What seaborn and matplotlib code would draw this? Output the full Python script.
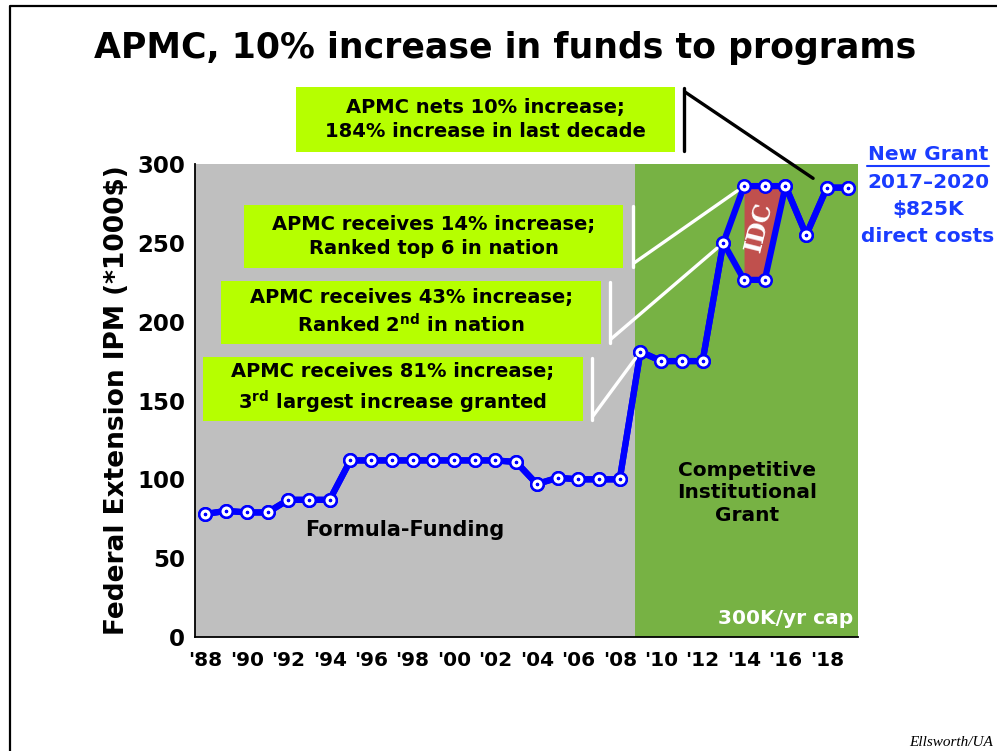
import numpy as np
import pandas as pd
import matplotlib
matplotlib.use("Agg")
import matplotlib.pyplot as plt
from matplotlib.lines import Line2D
from matplotlib.patches import Rectangle
import seaborn as sns

# funding per year (*1000$)
years = list(range(1988, 2020))
direct = [78, 80, 79, 79, 87, 87, 87, 112, 112, 112, 112, 112, 112, 112, 112, 111,
          97, 101, 100, 100, 100, 181, 175, 175, 175, 250, 226.5, 226.5, 286, 255, 285, 285]
# direct + indirect costs (only differs in '14 and '15)
total = [78, 80, 79, 79, 87, 87, 87, 112, 112, 112, 112, 112, 112, 112, 112, 111,
         97, 101, 100, 100, 100, 181, 175, 175, 175, 250, 286, 286, 286, 255, 285, 285]
idc_years = [2014, 2015, 2016]
split_year = 2008.75

tick_years = list(range(1988, 2020, 2))
tick_labels = ["'%02d" % (y % 100) for y in tick_years]

notes = [
    ("APMC nets 10% increase;\n184% increase in last decade", 2018, 285),
    ("APMC receives 14% increase;\nRanked top 6 in nation", 2014, 286),
    ("APMC receives 43% increase;\nRanked 2$^{\\mathbf{nd}}$ in nation", 2013, 250),
    ("APMC receives 81% increase;\n3$^{\\mathbf{rd}}$ largest increase granted", 2009, 181),
]

sns.set_style("white")
plt.rcParams['font.family'] = ['DejaVu Sans']
plt.rcParams['font.weight'] = 'bold'
plt.rcParams['mathtext.fontset'] = 'dejavusans'
for k in ['text.color', 'axes.labelcolor', 'xtick.color', 'ytick.color']:
    plt.rcParams[k] = 'black'

W, H = 997, 751
fig = plt.figure(figsize=(W / 100, H / 100), dpi=100)


def fx(x):
    return x / W


def fy(y):
    return 1 - y / H


ax = fig.add_axes([fx(195), fy(637), (858 - 195) / W, (637 - 164) / H])
ax.set_facecolor('none')

df = pd.DataFrame({'year': years, 'direct': direct, 'total': total})

ax.axvspan(1987.5, split_year, color='#bfbfbf', zorder=0, lw=0)
ax.axvspan(split_year, 2019.5, color='#77b244', zorder=0, lw=0)

sel = df[df['year'].isin(idc_years)]
ax.fill_between(sel['year'], sel['direct'], sel['total'], color='#c0504d', lw=0, zorder=1)
ax.text(2014.72, 260, 'IDC', color='white', fontsize=17, rotation=76,
        ha='center', va='center', family='DejaVu Serif', fontweight='bold', zorder=2)

for col in ['total', 'direct']:
    sns.lineplot(data=df, x='year', y=col, ax=ax, color='#0000ff', lw=4.5,
                 marker='o', markersize=9, markerfacecolor='white',
                 markeredgecolor='#0000ff', markeredgewidth=1.8, zorder=3)
    sns.scatterplot(data=df, x='year', y=col, ax=ax, color='#0000ff', s=6,
                    linewidth=0, zorder=4)

ax.set_xlim(1987.5, 2019.5)
ax.set_ylim(0, 300)
sns.despine(ax=ax)
for s in ['left', 'bottom']:
    ax.spines[s].set_color('black')
    ax.spines[s].set_linewidth(1.3)

ax.set_xticks(np.arange(1987.5, 2020, 1))
ax.set_xticklabels([])
ax.set_xticks(tick_years, tick_labels, minor=True)
ax.tick_params(axis='x', which='major', direction='out', length=6, width=1.2, color='black')
ax.tick_params(axis='x', which='minor', length=0, pad=10, labelsize=14.5)
ax.set_yticks(range(0, 301, 50))
ax.set_yticks(range(0, 301, 10), minor=True)
ax.tick_params(axis='y', which='major', direction='out', length=6, width=1.2, color='black',
               labelsize=16.5, pad=1)
ax.tick_params(axis='y', which='minor', direction='out', length=4, width=1, color='black')
for lab in ax.get_xticklabels(minor=True) + ax.get_yticklabels():
    lab.set_fontweight('bold')

ax.set_xlabel('')
ax.set_ylabel('Federal Extension IPM (*1000$)', fontsize=19, fontweight='bold')
ax.yaxis.set_label_coords((130 - 195) / 663, 0.5)

fig.text(fx(405), fy(530), 'Formula-Funding', fontsize=15, fontweight='bold',
         ha='center', va='center')
fig.text(fx(747), fy(493), 'Competitive\nInstitutional\nGrant', fontsize=14.5,
         fontweight='bold', ha='center', va='center', linespacing=1.25)
fig.text(fx(853), fy(618), '300K/yr cap', fontsize=14.5, fontweight='bold',
         color='white', ha='right', va='center')

# title
fig.text(fx(505), fy(48), 'APMC, 10% increase in funds to programs', fontsize=25,
         fontweight='bold', ha='center', va='center')

# callout boxes: (left, top, right, bottom) in pixels, bracket x
boxes = [(296, 87, 675, 152, 684, 'black'),
         (244, 205, 623, 268, 633, 'white'),
         (221, 281, 601, 344, 610, 'white'),
         (203, 357, 583, 421, 592, 'white')]
for (txt, yr, val), (l, t, r, b, bx, lc) in zip(notes, boxes):
    fig.add_artist(Rectangle((fx(l), fy(b)), (r - l) / W, (b - t) / H,
                             transform=fig.transFigure, color='#b6ff00', lw=0))
    fig.text(fx((l + r) / 2), fy((t + b) / 2), txt, fontsize=14, fontweight='bold',
             ha='center', va='center', linespacing=1.35)
    fig.add_artist(Line2D([fx(bx), fx(bx)], [fy(t + 1), fy(b - 1)],
                          transform=fig.transFigure, color=lc, lw=2.4))
    start = fy(t + 5) if lc == 'black' else fy(b - 5)
    ax.annotate('', xy=(yr, val), xycoords='data', xytext=(fx(bx + 1), start),
                textcoords='figure fraction',
                arrowprops=dict(arrowstyle='-', color=lc, lw=2.4, shrinkA=0,
                                shrinkB=12 if lc == 'black' else 6))

# new grant block
grant_lines = ['New Grant', '2017\u20132020', '$825K', 'direct costs']
for i, g in enumerate(grant_lines):
    fig.text(fx(928), fy(155 + 27 * i), g, fontsize=14.5, fontweight='bold',
             color='#1a3cff', ha='center', va='center')
fig.add_artist(Line2D([fx(867), fx(989)], [fy(166), fy(166)],
                      transform=fig.transFigure, color='#1a3cff', lw=1.5))

fig.text(fx(993), fy(742), 'Ellsworth/UA', fontsize=11, style='italic',
         fontweight='normal', family='Liberation Serif', ha='right', va='center')

# slide frame
fig.add_artist(Line2D([fx(10), fx(10), fx(997)], [fy(751), fy(6), fy(6)],
                      transform=fig.transFigure, color='black', lw=1.6))

fig.savefig('out.png', dpi=100)
